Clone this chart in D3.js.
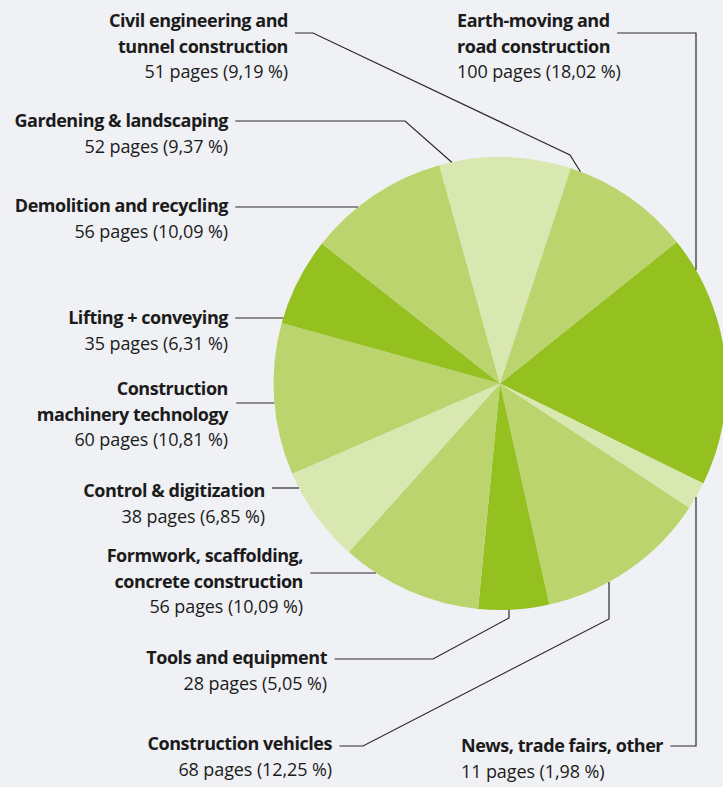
<!DOCTYPE html>
<html>
<head>
<meta charset="utf-8">
<script src="https://cdn.jsdelivr.net/npm/d3@7"></script>
<style>
  body { margin: 0; background: #f0f1f4; }
  svg { display: block; }
  text { font-family: "Open Sans", sans-serif; fill: #1b1b1b; }
</style>
</head>
<body>
<div id="chart"></div>
<script>
// slices in clockwise order, starting with Earth-moving
var names = [
  ["Earth-moving and", "road construction"],
  ["News, trade fairs, other"],
  ["Construction vehicles"],
  ["Tools and equipment"],
  ["Formwork, scaffolding,", "concrete construction"],
  ["Control & digitization"],
  ["Construction", "machinery technology"],
  ["Lifting + conveying"],
  ["Demolition and recycling"],
  ["Gardening & landscaping"],
  ["Civil engineering and", "tunnel construction"]
];
var pages = [100, 11, 68, 28, 56, 38, 60, 35, 56, 52, 51];
var shares = ["18,02", "1,98", "12,25", "5,05", "10,09", "6,85", "10,81", "6,31", "10,09", "9,37", "9,19"];
var shades = ["#94c11f", "#d9e7b1", "#bbd46d", "#94c11f", "#bbd46d", "#d9e7b1", "#bbd46d", "#94c11f", "#bbd46d", "#d9e7b1", "#bbd46d"];

let svgWidth = 723;
let svgHeight = 787;
let cx = 500, cy = 383.5, radius = 226.5;

// label placement: anchor x, first baseline, anchor side, leader y, leader bends
var labelPos = [
  {x: 457, y: 27, anchor: "start", ly: 33, bends: [[696, 33]], end: {vx: 696, side: -1}},
  {x: 461, y: 752, anchor: "start", ly: 746, bends: [[696, 746]], end: {vx: 696, side: 1}},
  {x: 332, y: 750, anchor: "end", ly: 746, bends: [[363, 746], [609, 619]], end: {vx: 609, side: 1}},
  {x: 327, y: 664, anchor: "end", ly: 659, bends: [[433, 659], [509, 618]], end: {vx: 509, side: 1}},
  {x: 303, y: 562, anchor: "end", ly: 573, bends: [], end: {hy: 573}},
  {x: 265, y: 497, anchor: "end", ly: 488, bends: [], end: {hy: 488}},
  {x: 228, y: 395, anchor: "end", ly: 403, bends: [], end: {hy: 403}},
  {x: 228, y: 324, anchor: "end", ly: 318, bends: [], end: {hy: 318}},
  {x: 228, y: 212, anchor: "end", ly: 207, bends: [], end: {hy: 207}},
  {x: 228, y: 127, anchor: "end", ly: 121, bends: [[405, 121]], end: {deg: 347.7}},
  {x: 288, y: 27, anchor: "end", ly: 33, bends: [[313, 33], [570, 155]], end: {deg: 20.8}}
];
let lineStep = 25.5;

let svg = d3.select("#chart")
  .append("svg")
  .attr("width", svgWidth)
  .attr("height", svgHeight);

svg.append("rect")
  .attr("width", svgWidth)
  .attr("height", svgHeight)
  .attr("fill", "#f0f1f4");

let pie = d3.pie()
  .sort(null)
  .startAngle(51.3 * Math.PI / 180)
  .endAngle(51.3 * Math.PI / 180 + 2 * Math.PI);

let arc = d3.arc().innerRadius(0).outerRadius(radius);

let pieGroup = svg.append("g")
  .attr("transform", `translate(${cx}, ${cy})`);

pieGroup.selectAll("path")
  .data(pie(pages))
  .enter()
  .append("path")
  .attr("d", arc)
  .attr("fill", (d, i) => shades[i]);

// point where the leader meets the pie
function edgePoint(e) {
  if (e.hy !== undefined) {
    let dy = e.hy - cy;
    return [cx - Math.sqrt(radius * radius - dy * dy), e.hy];
  }
  if (e.vx !== undefined) {
    let dx = e.vx - cx;
    return [e.vx, cy + e.side * Math.sqrt(radius * radius - dx * dx)];
  }
  let a = e.deg * Math.PI / 180;
  return [cx + radius * Math.sin(a), cy - radius * Math.cos(a)];
}

names.forEach(function(lines, i) {
  let p = labelPos[i];
  let g = svg.append("g");
  let txt = g.append("text")
    .attr("text-anchor", p.anchor)
    .style("font-size", "18px");
  lines.forEach(function(l, j) {
    txt.append("tspan")
      .attr("x", p.x)
      .attr("y", p.y + j * lineStep)
      .style("font-weight", 700)
      .style("letter-spacing", "-0.45px")
      .text(l);
  });
  txt.append("tspan")
    .attr("x", p.x)
    .attr("y", p.y + lines.length * lineStep)
    .style("font-weight", 400)
    .style("letter-spacing", "-0.1px")
    .text(pages[i] + " pages (" + shares[i] + " %)");

  // leader starts just past the bold line nearest to it
  let spans = txt.selectAll("tspan").nodes();
  let startX = 0;
  spans.slice(0, lines.length).forEach(function(s) {
    let b = s.getBBox();
    startX = Math.max(startX, b.x + b.width);
  });
  let pts = [[startX + 7, p.ly]].concat(p.bends, [edgePoint(p.end)]);
  g.append("path")
    .attr("d", d3.line()(pts))
    .attr("fill", "none")
    .attr("stroke", "#2a2a2a")
    .attr("stroke-width", 1.2);
});
</script>
</body>
</html>
